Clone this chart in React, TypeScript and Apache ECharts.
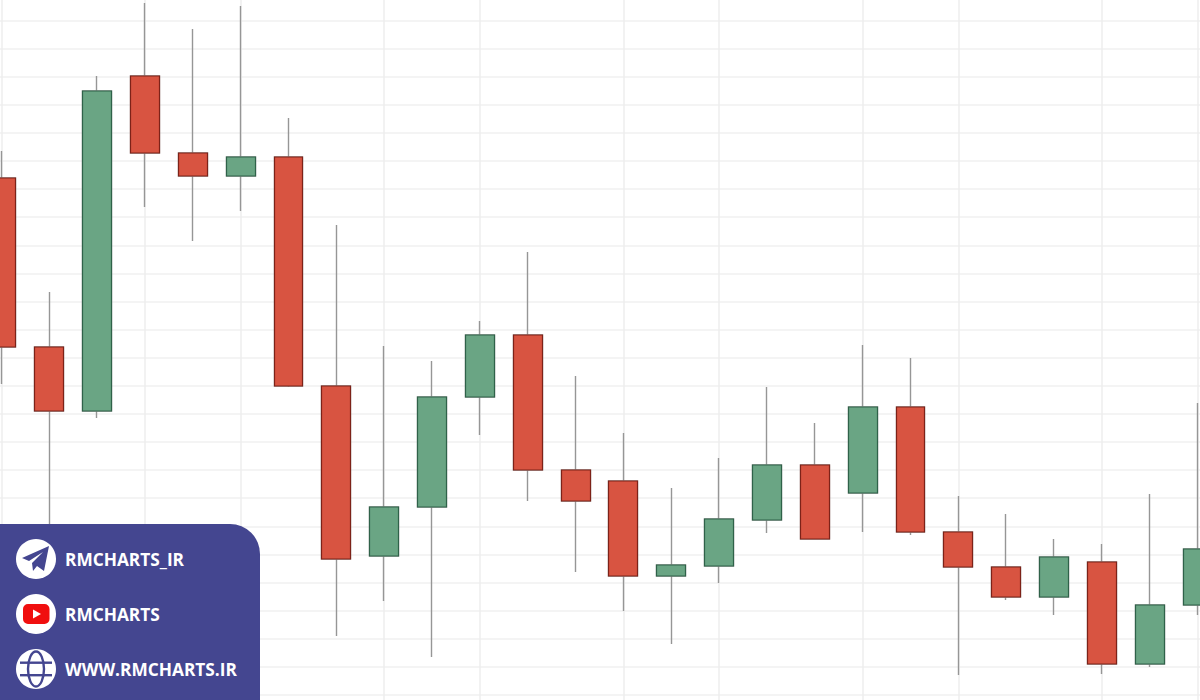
import React, { useEffect, useRef } from "react";
import * as echarts from "echarts";

// Candles, on an arbitrary price scale (no axis labels are visible in the source).
const opens = [193.95, 133.8, 111.03, 230.25, 202.85, 194.66, 201.42, 119.93, 59.43, 76.87, 116.01, 138.08, 90.04, 86.12, 52.31, 55.87, 72.24, 91.81, 81.85, 112.46, 67.97, 55.52, 44.84, 57.3, 21.0, 41.99];
const closes = [133.8, 111.03, 224.91, 202.85, 194.66, 201.42, 119.93, 58.36, 76.87, 116.01, 138.08, 90.04, 79.0, 52.31, 56.23, 72.6, 91.81, 65.48, 112.46, 67.97, 55.52, 44.84, 59.07, 21.0, 41.99, 61.92];
const lows = [120.64, 65.12, 108.54, 183.63, 171.53, 182.21, 119.57, 30.96, 43.42, 23.49, 102.49, 79.0, 53.74, 39.86, 28.11, 49.82, 67.62, 65.48, 67.97, 66.9, 17.08, 43.77, 38.43, 17.44, 19.93, 38.43];
const highs = [203.56, 153.38, 230.25, 256.23, 246.98, 255.16, 215.3, 177.22, 134.16, 128.83, 143.06, 167.62, 123.49, 103.2, 83.63, 94.31, 119.57, 106.76, 134.52, 129.89, 80.78, 74.38, 65.48, 63.7, 81.49, 113.88];
const categories = opens.map((_, i) => String(i + 1));
const verticalGridAt = [0, 3, 5, 8, 10, 13, 15, 18, 20, 23, 25];

const linkLabels = ["RMCHARTS_IR", "RMCHARTS", "WWW.RMCHARTS.IR"];

const RED = "#d85441";
const GREEN = "#6aa584";
const RED_EDGE = "#7d2218";
const GREEN_EDGE = "#2f6249";
const WICK = "#969696";
const PANEL = "#444690";

export default function App() {
  const ref = useRef<HTMLDivElement>(null);
  useEffect(() => {
    document.body.style.margin = "0";
    const chart = echarts.init(ref.current!, null, { renderer: "svg" });
    const withWicks = opens.map((o, i) => [o, closes[i], lows[i], highs[i]]);
    const bodies = opens.map((o, i) => [o, closes[i], Math.min(o, closes[i]), Math.max(o, closes[i])]);
    const rowY = [559, 614, 669];
    const Z = 11;
    const globe = (cy: number) => [
      { type: "circle", z: Z, shape: { cx: 36, cy, r: 20 }, style: { fill: "#ffffff" } },
      { type: "ellipse", z: Z + 1, shape: { cx: 36, cy, rx: 8, ry: 17.5 }, style: { fill: "none", stroke: PANEL, lineWidth: 2.4 } },
      { type: "rect", z: Z + 1, shape: { x: 20, y: cy - 7.5, width: 32, height: 2.4 }, style: { fill: PANEL } },
      { type: "rect", z: Z + 1, shape: { x: 20, y: cy + 5, width: 32, height: 2.4 }, style: { fill: PANEL } },
    ];
    chart.setOption({
      animation: false,
      backgroundColor: "#ffffff",
      grid: { left: -22.5, top: -7.6, width: 1244, height: 730.6, containLabel: false, outerBoundsMode: "none" },
      xAxis: {
        type: "category",
        data: categories,
        axisLine: { show: false },
        axisTick: { show: false },
        axisLabel: { show: false },
        splitLine: {
          show: true,
          alignWithLabel: true,
          interval: (i: number) => verticalGridAt.includes(i),
          lineStyle: { color: "#eeeeee", width: 1.5 },
        },
      },
      yAxis: {
        type: "value",
        min: 0,
        max: 260,
        interval: 10,
        axisLine: { show: false },
        axisTick: { show: false },
        axisLabel: { show: false },
        splitLine: { show: true, lineStyle: { color: "#f1f1f1", width: 1.5 } },
      },
      series: [
        {
          type: "candlestick",
          data: withWicks,
          barWidth: 29.4,
          itemStyle: { color: RED, color0: RED, borderColor: WICK, borderColor0: WICK, borderWidth: 1.4 },
          silent: true,
        },
        {
          type: "candlestick",
          data: bodies,
          barWidth: 29.4,
          // ECharts draws close > open with `color`; green candles here close higher.
          itemStyle: { color: GREEN, color0: RED, borderColor: GREEN_EDGE, borderColor0: RED_EDGE, borderWidth: 1.2 },
          silent: true,
        },
      ],
      graphic: [
        { type: "rect", z: 10, shape: { x: 0, y: 524, width: 260, height: 190, r: [0, 30, 0, 0] }, style: { fill: PANEL } },
        { type: "circle", z: Z, shape: { cx: 36, cy: rowY[0], r: 20 }, style: { fill: "#ffffff" } },
        { type: "polygon", z: Z + 1, shape: { points: [[22, 558], [49, 546], [44, 571], [37, 566], [33, 571], [32, 563], [43, 552], [29, 561]] }, style: { fill: PANEL } },
        { type: "circle", z: Z, shape: { cx: 36, cy: rowY[1], r: 20 }, style: { fill: "#ffffff" } },
        { type: "rect", z: Z + 1, shape: { x: 23, y: 604, width: 26.5, height: 20, r: 5 }, style: { fill: "#f00f0f" } },
        { type: "polygon", z: Z + 2, shape: { points: [[33, 609.5], [33, 618.5], [41, 614]] }, style: { fill: "#ffffff" } },
        ...globe(rowY[2]),
        ...linkLabels.map((text, i) => ({
          type: "text",
          z: Z,
          x: 65,
          y: rowY[i],
          style: { text, fill: "#ffffff", font: "700 17.3px 'Open Sans'", verticalAlign: "middle" },
        })),
      ],
    });
    return () => chart.dispose();
  }, []);
  return <div ref={ref} style={{ position: "fixed", left: 0, top: 0, width: 1200, height: 700 }} />;
}
